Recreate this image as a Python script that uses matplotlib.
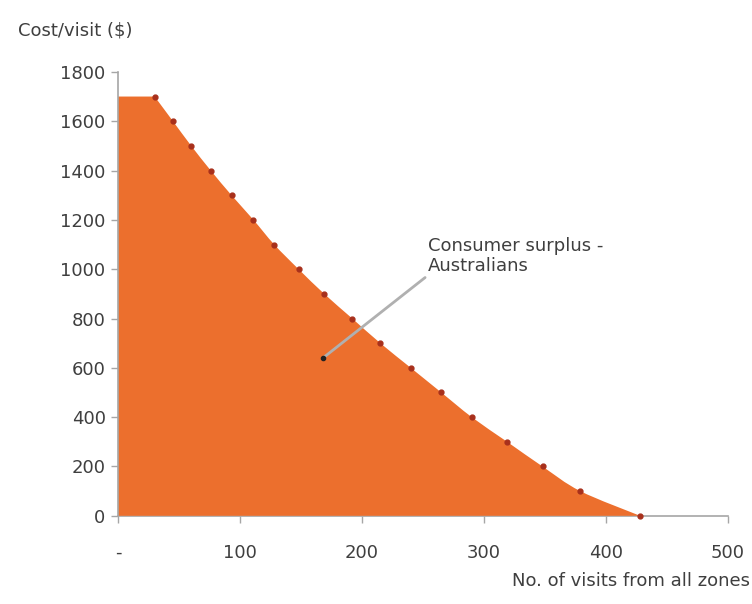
import numpy as np
import matplotlib
matplotlib.use('Agg')
import matplotlib.pyplot as plt
from matplotlib.path import Path
from matplotlib.patches import PathPatch

# Survey points
visits = [30, 45, 60, 76, 93, 111, 128, 148, 169, 192, 215, 240, 265, 290, 319, 348, 379, 428]
cost = [1700, 1600, 1500, 1400, 1300, 1200, 1100, 1000, 900, 800,
        700, 600, 500, 400, 300, 200, 100, 0]
x_ticks = [0, 100, 200, 300, 400, 500]
x_tick_labels = ['-', '100', '200', '300', '400', '500']
y_ticks = [0, 200, 400, 600, 800, 1000, 1200, 1400, 1600, 1800]
start_cost = 1700
label_point = (168, 640)

plt.rcParams['font.family'] = ['DejaVu Sans']
text_col = '#3f3f3f'
axis_col = '#a6a6a6'
fill_col = '#ec6f2d'
dot_col = '#a8301c'
fs = 13

fig = plt.figure(figsize=(7.52, 6.04), dpi=100)
ax = fig.add_axes([0.157, 0.146, 0.811, 0.735])

# smoothed edge (Catmull-Rom -> cubic bezier), like the spreadsheet's smooth line
pts = np.column_stack([visits, cost]).astype(float)
ext = np.vstack([pts[0], pts, pts[-1]])
verts = [(0, 0), (0, start_cost), tuple(pts[0])]
codes = [Path.MOVETO, Path.LINETO, Path.LINETO]
for i in range(1, len(ext) - 2):
    p0, p1, p2, p3 = ext[i - 1], ext[i], ext[i + 1], ext[i + 2]
    c1 = p1 + (p2 - p0) / 6.0
    c2 = p2 - (p3 - p1) / 6.0
    verts += [tuple(c1), tuple(c2), tuple(p2)]
    codes += [Path.CURVE4] * 3
verts += [(0, 0), (0, 0)]
codes += [Path.LINETO, Path.CLOSEPOLY]
ax.add_patch(PathPatch(Path(verts, codes), facecolor=fill_col, edgecolor='none', zorder=2))

ax.plot(visits, cost, linestyle='none', marker='o', markersize=3.5,
        color=dot_col, zorder=4, clip_on=False)

ax.set_xlim(0, 500)
ax.set_ylim(0, 1800)
ax.set_xticks(x_ticks)
ax.set_xticklabels(x_tick_labels)
ax.set_yticks(y_ticks)

for s in ['top', 'right']:
    ax.spines[s].set_visible(False)
for s in ['left', 'bottom']:
    ax.spines[s].set_color(axis_col)
    ax.spines[s].set_linewidth(1.2)
ax.spines['bottom'].set_zorder(1)
ax.tick_params(axis='both', colors=axis_col, length=5, width=1.0,
               labelcolor=text_col, labelsize=fs)
ax.tick_params(axis='x', pad=15)
ax.tick_params(axis='y', pad=4)

ax.annotate('Consumer surplus -\nAustralians', xy=label_point, xytext=(254, 975),
            fontsize=fs, color=text_col, ha='left', va='bottom',
            arrowprops=dict(arrowstyle='-', color='#b0b0b0', lw=2,
                            shrinkA=0, shrinkB=0, relpos=(0, 0)),
            zorder=5)
ax.plot(*label_point, marker='o', markersize=3, color='#222222', zorder=6)

fig.text(0.024, 0.949, 'Cost/visit ($)', fontsize=fs, color=text_col,
         ha='left', va='center')
fig.text(0.998, 0.038, 'No. of visits from all zones', fontsize=fs,
         color=text_col, ha='right', va='center')

fig.savefig('out.png', dpi=100, facecolor='white')
